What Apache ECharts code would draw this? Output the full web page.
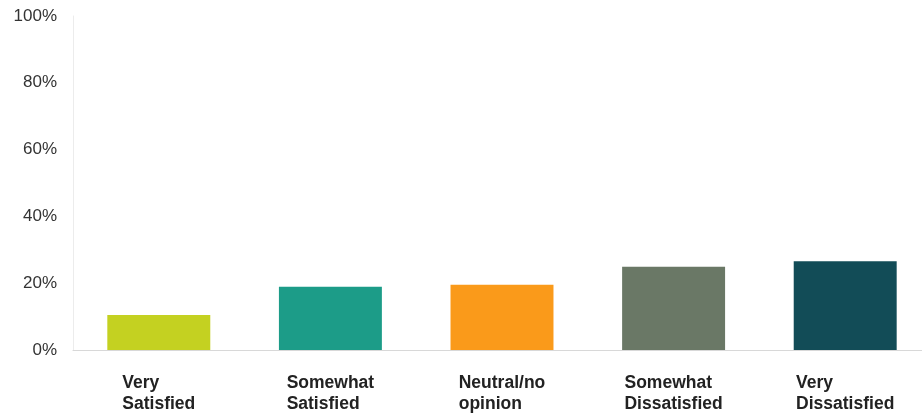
<!DOCTYPE html>
<html>
<head>
<meta charset="utf-8">
<script src="https://cdn.jsdelivr.net/npm/echarts@6/dist/echarts.min.js"></script>
<style>
  html, body { margin: 0; padding: 0; background: #fff; overflow: hidden; }
  /* plot runs a little past the right edge of the picture, as in the source */
  #chart { width: 931px; height: 415px; }
</style>
</head>
<body>
<div id="chart"></div>
<script>
// survey answers, share of respondents (%)
var categories = ['Very\nSatisfied', 'Somewhat\nSatisfied', 'Neutral/no\nopinion', 'Somewhat\nDissatisfied', 'Very\nDissatisfied'];
var values = [10.5, 18.9, 19.5, 24.9, 26.6];
var yTicks = [0, 20, 40, 60, 80, 100];

var barColors = ['#c4d121', '#1c9c88', '#fa9a1a', '#6a7866', '#124c57'];

var chart = echarts.init(document.getElementById('chart'));

var option = {
  backgroundColor: '#fff',
  animation: false,
  grid: {
    left: 73,
    top: 16,
    right: 0,
    height: 334
  },
  xAxis: {
    type: 'category',
    data: categories,
    axisTick: { show: false },
    axisLine: {
      lineStyle: { color: '#d8d8d8', width: 1 }
    },
    axisLabel: {
      margin: 23,
      interval: 0,
      formatter: function (v) {
        return v.split('\n').map(function (s) { return '{a|' + s + '}'; }).join('\n');
      },
      rich: {
        a: {
          align: 'left',
          fontFamily: 'Liberation Sans, Arial, sans-serif',
          fontWeight: 'bold',
          fontSize: 17.5,
          lineHeight: 21,
          color: '#222'
        }
      }
    }
  },
  yAxis: {
    type: 'value',
    min: yTicks[0],
    max: yTicks[yTicks.length - 1],
    interval: 20,
    axisLine: {
      show: true,
      lineStyle: { color: '#ececec', width: 1 }
    },
    axisTick: { show: false },
    splitLine: { show: false },
    axisLabel: {
      margin: 16,
      fontFamily: 'Liberation Sans, Arial, sans-serif',
      fontSize: 17,
      color: '#333',
      formatter: '{value}%'
    }
  },
  series: [{
    type: 'bar',
    barWidth: '60%',
    data: values.map(function (v, i) {
      return { value: v, itemStyle: { color: barColors[i] } };
    })
  }]
};

chart.setOption(option);
</script>
</body>
</html>
